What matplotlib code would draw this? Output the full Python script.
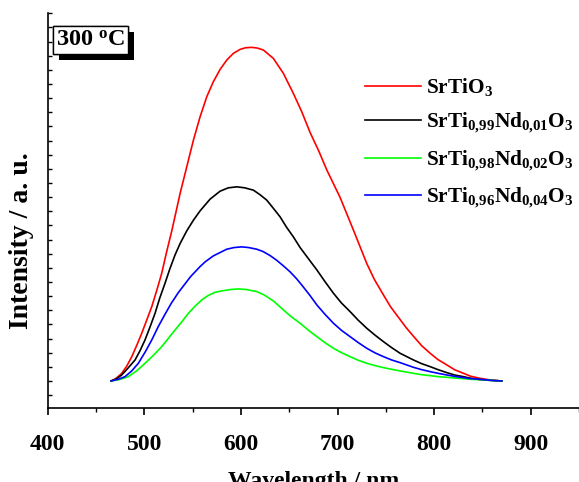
import matplotlib
matplotlib.use("Agg")
import matplotlib.pyplot as plt
import matplotlib.patheffects as pe
from matplotlib.ticker import MultipleLocator, NullFormatter

plt.rcParams["font.family"] = "Liberation Serif"
plt.rcParams["font.weight"] = "bold"
plt.rcParams["mathtext.fontset"] = "custom"
plt.rcParams["mathtext.rm"] = "Liberation Serif:bold"
plt.rcParams["mathtext.it"] = "Liberation Serif:bold"
plt.rcParams["mathtext.bf"] = "Liberation Serif:bold"

# (intensity normalised to the SrTiO3 peak)
wl_red = [465.6, 471, 476.7, 482, 487.1, 492, 497.4, 502.5, 507.8, 513, 518.1, 523, 528.5,
          537.1, 544.0, 550.9, 557.8, 564.7, 571.5, 578.5, 585.4, 592.2, 599.2, 605, 611.3,
          617, 623.3, 633.6, 644.0, 654.3, 663.0, 671.6, 680.5, 689.0, 702.7, 716.5,
          730.3, 738, 747.5, 755, 764.8, 771, 778.6, 787, 795.9, 804, 813.2, 821, 830.3,
          838, 847.6, 858, 870]
i_red = [0, 0.008, 0.023, 0.045, 0.073, 0.105, 0.143, 0.182, 0.223, 0.272, 0.323, 0.385, 0.45,
         0.562, 0.642, 0.722, 0.792, 0.852, 0.897, 0.934, 0.962, 0.982, 0.994, 0.999, 1.0,
         0.998, 0.992, 0.967, 0.922, 0.862, 0.807, 0.745, 0.69, 0.632, 0.55, 0.452,
         0.352, 0.305, 0.258, 0.222, 0.184, 0.16, 0.134, 0.106, 0.083, 0.064, 0.048, 0.034, 0.023,
         0.014, 0.008, 0.003, 0]

wl_k = [465.6, 471, 476.7, 483, 490.5, 495.5, 500.8, 506, 511.2, 516, 521.5, 526.5, 531.9,
        537.1, 544.0, 550.9, 557.8, 568.1, 578.5, 587, 595.8, 604, 613.0, 620, 626.8, 633.5,
        640.6, 647, 654.3, 661.3, 671.6, 678.6, 687, 695.8, 704, 713.0, 721.5, 730.3, 739,
        747.5, 756, 764.8, 778.6, 787, 795.9, 804, 813.2, 821, 830.3, 838, 847.6, 858, 870]
i_k = [0, 0.006, 0.018, 0.038, 0.063, 0.09, 0.123, 0.162, 0.203, 0.248, 0.293, 0.336, 0.378,
       0.412, 0.450, 0.482, 0.510, 0.545, 0.569, 0.579, 0.582, 0.579, 0.572, 0.558, 0.542, 0.518,
       0.492, 0.462, 0.432, 0.40, 0.36, 0.333, 0.298, 0.263, 0.234, 0.208, 0.182, 0.158, 0.137,
       0.118, 0.10, 0.083, 0.063, 0.052, 0.043, 0.034, 0.025, 0.018, 0.013, 0.008, 0.004, 0.002, 0]

wl_g = [465.6, 474, 483.5, 492, 500.8, 509.5, 518.1, 525, 531.9, 539, 545.7, 552.5, 559.5,
        566, 573.3, 580, 589, 597.4, 606, 616.4, 624, 633.6, 644.0, 652, 661.3, 670, 678.6,
        687, 695.8, 704, 713.0, 721.5, 730.3, 739, 747.5, 756, 764.8, 778.6, 787, 795.9,
        804, 813.2, 821, 830.3, 838, 847.6, 858, 870]
i_g = [0, 0.004, 0.013, 0.03, 0.053, 0.077, 0.103, 0.128, 0.153, 0.178, 0.203, 0.224, 0.243,
       0.256, 0.266, 0.270, 0.274, 0.276, 0.274, 0.268, 0.258, 0.240, 0.213, 0.193, 0.173, 0.152,
       0.133, 0.115, 0.098, 0.085, 0.073, 0.062, 0.053, 0.046, 0.040, 0.035, 0.030, 0.023, 0.019,
       0.016, 0.013, 0.011, 0.009, 0.007, 0.005, 0.004, 0.002, 0]

wl_b = [465.6, 473, 480.1, 487, 493.9, 501, 507.8, 514.5, 521.5, 528, 535.3, 548, 557.8, 563,
        571.5, 585.4, 593, 600.9, 608, 616.4, 623, 630.2, 637, 644.0, 651, 657.8, 664, 671.6,
        678.6, 687, 695.8, 704, 713.0, 721.5, 730.3, 739, 747.5, 756, 764.8, 778.6, 787,
        795.9, 804, 813.2, 821, 830.3, 838, 847.6, 858, 870]
i_b = [0, 0.005, 0.013, 0.03, 0.053, 0.087, 0.123, 0.163, 0.200, 0.233, 0.265, 0.313, 0.343, 0.357,
       0.375, 0.395, 0.40, 0.402, 0.40, 0.395, 0.388, 0.376, 0.362, 0.345, 0.327, 0.306, 0.284,
       0.256, 0.228, 0.20, 0.173, 0.152, 0.133, 0.115, 0.098, 0.084, 0.073, 0.063, 0.055, 0.041,
       0.034, 0.028, 0.023, 0.018, 0.014, 0.010, 0.007, 0.005, 0.002, 0]

labels = [r"SrTiO$_3$",
          r"SrTi$_{0{,}99}$Nd$_{0{,}01}$O$_3$",
          r"SrTi$_{0{,}98}$Nd$_{0{,}02}$O$_3$",
          r"SrTi$_{0{,}96}$Nd$_{0{,}04}$O$_3$"]

fig = plt.figure(figsize=(5.79, 4.82), dpi=100)
ax = fig.add_axes([0.0822, 0.1535, 0.918, 0.8195])

ax.plot(wl_red, i_red, color="#ff0000", lw=1.2, label=labels[0])
ax.plot(wl_k, i_k, color="black", lw=1.2, label=labels[1])
ax.plot(wl_g, i_g, color="#00ff00", lw=1.2, label=labels[2])
ax.plot(wl_b, i_b, color="#0000ff", lw=1.2, label=labels[3])

ax.set_xlim(400, 950)
ax.set_ylim(-0.081, 1.103)
ax.spines["top"].set_visible(False)
ax.spines["right"].set_visible(False)
ax.spines["left"].set_linewidth(1.2)
ax.spines["bottom"].set_linewidth(1.2)

ax.xaxis.set_major_locator(MultipleLocator(100))
ax.xaxis.set_minor_locator(MultipleLocator(50))
ax.tick_params(axis="x", which="major", direction="out", length=5, width=1.2,
               labelsize=17, pad=14)
ax.tick_params(axis="x", which="minor", direction="out", length=3, width=1)
ax.yaxis.set_major_locator(MultipleLocator(0.0424))
ax.yaxis.set_major_formatter(NullFormatter())
ax.tick_params(axis="y", which="major", direction="in", length=3, width=1)

ax.set_xlabel("Wavelength / nm", fontsize=17, fontweight="bold", labelpad=11)
ax.set_ylabel("Intensity / a. u.", fontsize=20, fontweight="bold", va="center")
ax.yaxis.set_label_coords(-0.05, 0.425)

ax.legend(loc="upper left", bbox_to_anchor=(0.582, 0.862), frameon=False, fontsize=15.3,
          handlelength=2.6, handletextpad=0.27, labelspacing=0.62, borderaxespad=0)

t = ax.text(0.0807, 0.932, r"300 $^{\mathbf{o}}$C", transform=ax.transAxes, fontsize=17.5,
            fontweight="bold", va="center", ha="center",
            bbox=dict(boxstyle="square,pad=0.13", fc="white", ec="black", lw=1))
t.get_bbox_patch().set_path_effects([pe.withSimplePatchShadow(offset=(4.3, -4.3),
                                                             shadow_rgbFace="black", alpha=1),
                                     pe.Normal()])

fig.savefig("out.png", dpi=100)
